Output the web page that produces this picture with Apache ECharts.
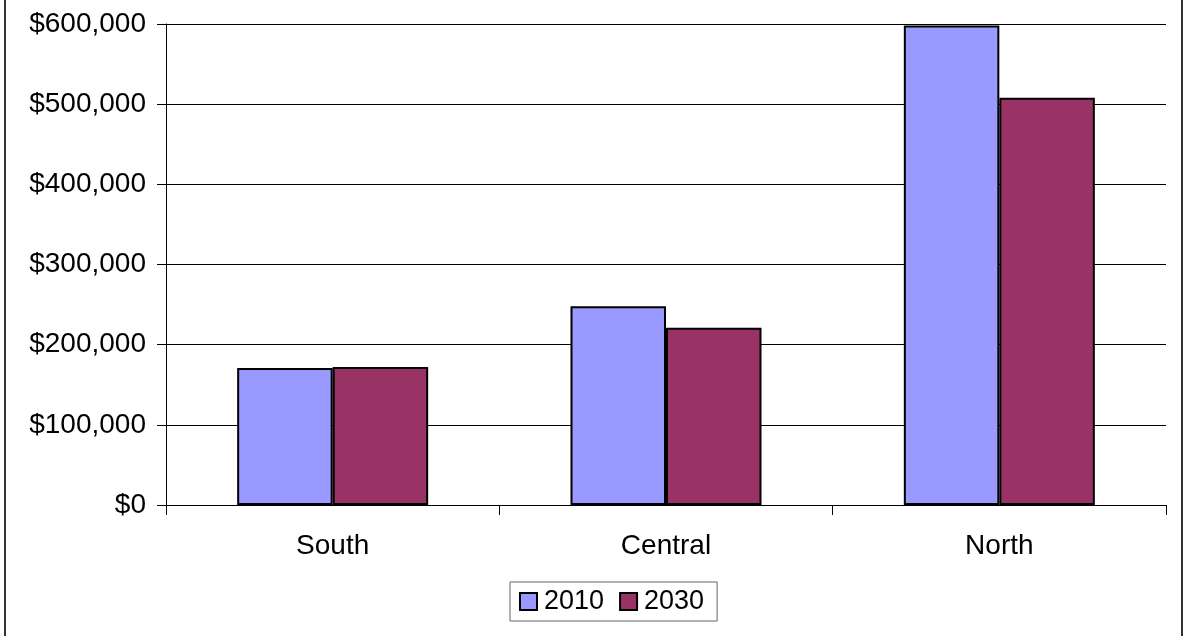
<!DOCTYPE html>
<html>
<head>
<meta charset="utf-8">
<script src="https://cdn.jsdelivr.net/npm/echarts@6/dist/echarts.min.js"></script>
<style>
html,body{margin:0;padding:0;background:#fff;}
#chart{width:1184px;height:636px;}
</style>
</head>
<body>
<div id="chart"></div>
<script>
const categories = ['South', 'Central', 'North'];
const seriesNames = ['2010', '2030'];
const values2010 = [171000, 248000, 598000];
const values2030 = [172000, 221000, 508000];
const yTicks = [0, 100000, 200000, 300000, 400000, 500000, 600000];

function fmt(v) {
  return '$' + String(v).replace(/\B(?=(\d{3})+(?!\d))/g, ',');
}

const chart = echarts.init(document.getElementById('chart'), null, {renderer: 'canvas'});
const font = 'Liberation Sans, Arial, sans-serif';
chart.setOption({
  animation: false,
  backgroundColor: '#fff',
  textStyle: {fontFamily: font},
  grid: {left: 166, right: 18, top: 24, bottom: 131, containLabel: false},
  xAxis: {
    type: 'category',
    data: categories,
    axisLine: {lineStyle: {color: '#000', width: 1}},
    axisTick: {show: true, length: 10, lineStyle: {color: '#000'}},
    axisLabel: {color: '#000', fontSize: 28, fontFamily: font, margin: 27}
  },
  yAxis: {
    type: 'value',
    min: yTicks[0],
    max: yTicks[yTicks.length - 1],
    interval: yTicks[1] - yTicks[0],
    axisLine: {show: true, lineStyle: {color: '#000', width: 1}},
    axisTick: {show: true, length: 9, lineStyle: {color: '#000'}},
    splitLine: {show: true, lineStyle: {color: '#000', width: 1}},
    axisLabel: {color: '#000', fontSize: 28, fontFamily: font, margin: 20, formatter: fmt}
  },
  legend: {
    data: seriesNames,
    left: 510,
    top: 582,
    padding: [6, 13, 6, 9],
    itemGap: 15,
    itemWidth: 17,
    itemHeight: 17,
    icon: 'rect',
    borderColor: '#666',
    borderWidth: 1,
    textStyle: {color: '#000', fontSize: 27, fontFamily: font, padding: [0, 0, 0, 2]}
  },
  series: [
    {
      name: seriesNames[0], type: 'bar', data: values2010,
      barGap: '0%', barCategoryGap: '42.7%',
      itemStyle: {color: '#9999FF', borderColor: '#000', borderWidth: 2}
    },
    {
      name: seriesNames[1], type: 'bar', data: values2030,
      barGap: '0%', barCategoryGap: '42.7%',
      itemStyle: {color: '#993366', borderColor: '#000', borderWidth: 2}
    }
  ],
  graphic: [
    {type: 'line', shape: {x1: 5, y1: 0, x2: 5, y2: 636}, style: {stroke: '#333', lineWidth: 2}},
    {type: 'line', shape: {x1: 1182, y1: 0, x2: 1182, y2: 636}, style: {stroke: '#333', lineWidth: 2}}
  ]
});
</script>
</body>
</html>
